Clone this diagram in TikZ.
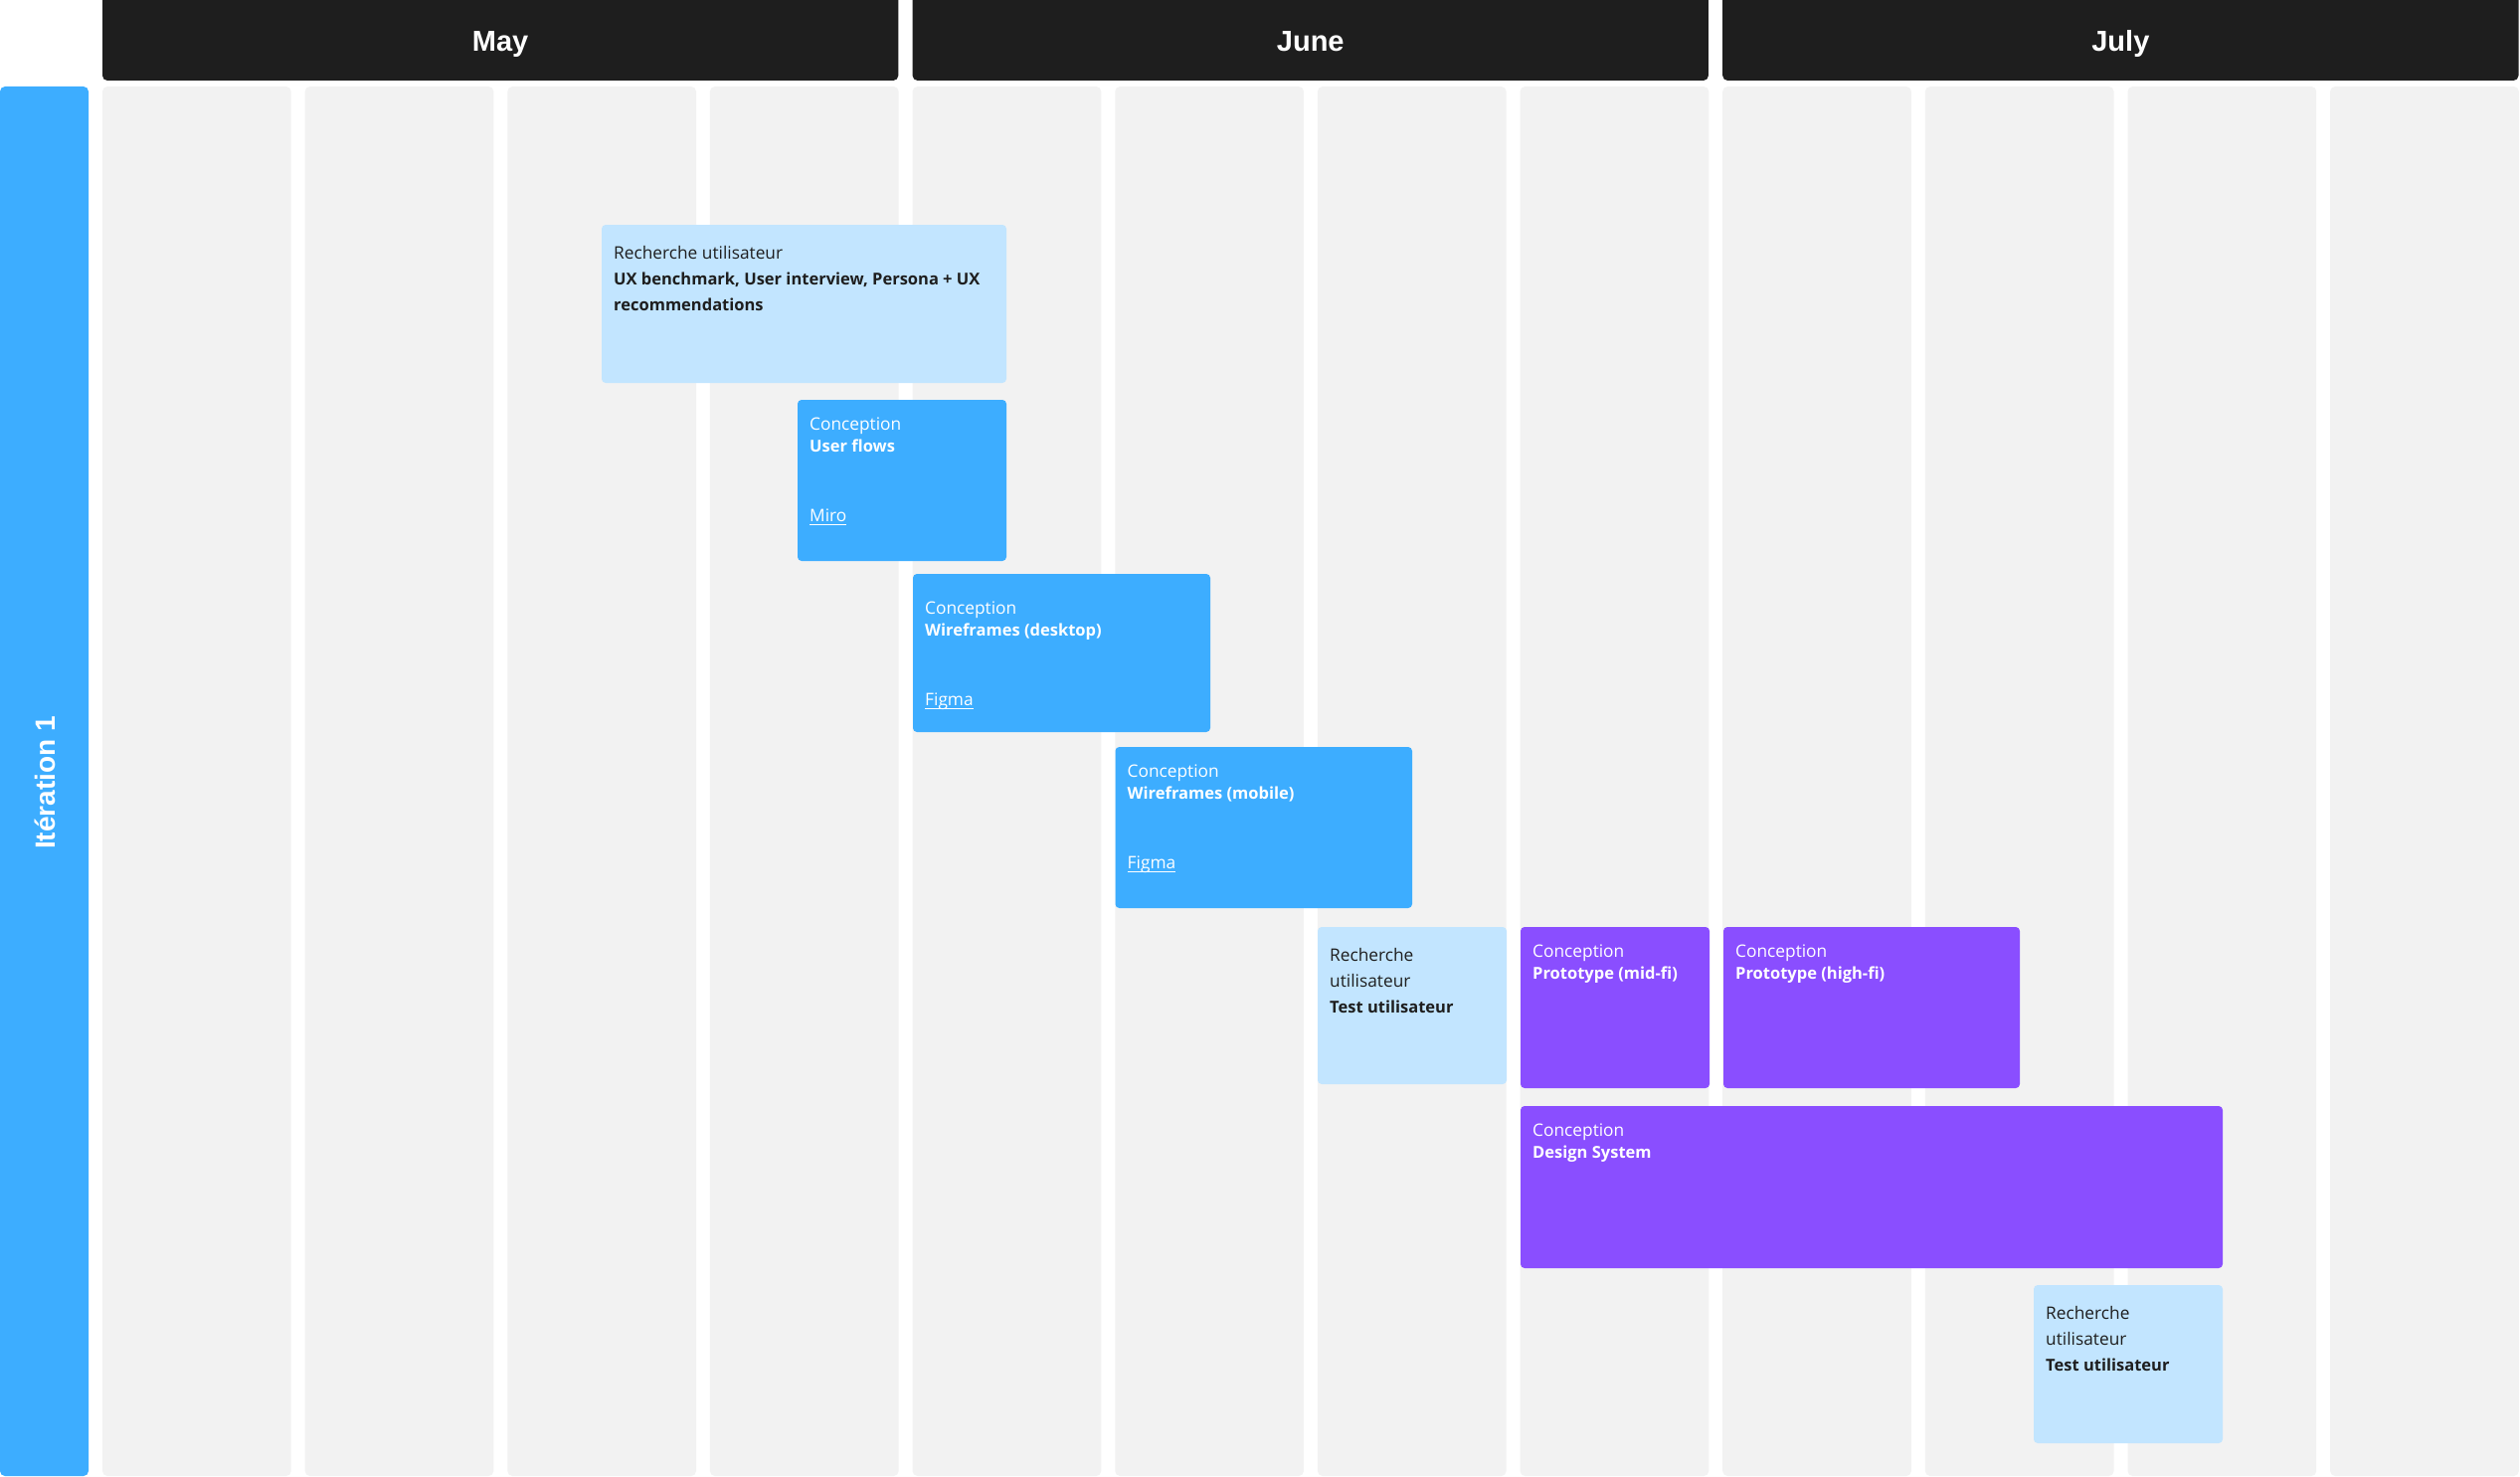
\documentclass[tikz,border=0pt]{standalone}
\usepackage{fontspec}
\setmainfont{Liberation Sans}
\newfontfamily\taskfont{Open Sans}
\definecolor{hdr}{HTML}{1E1E1E}
\definecolor{colbg}{HTML}{F2F2F2}
\definecolor{iterblue}{HTML}{3DADFF}
\definecolor{lightblue}{HTML}{C2E5FF}
\definecolor{taskblue}{HTML}{3DADFF}
\definecolor{taskpurple}{HTML}{8A4EFF}
\definecolor{inktext}{HTML}{1E1E1E}

% box spanning two corners, given as x1,y1,x2,y2 (y grows downward)
\newcommand\boxnode[6]{%
  \node[#2, anchor=north west, minimum width={#5-#3}, minimum height={#6-#4}] (#1) at (#3,#4) {};}
% one text line, baseline #2 below the top of box #1
\newcommand\tline[4]{%
  \node[#3, anchor=base west] at ([xshift=12pt, yshift=-#2pt]#1.north west) {#4};}
% underlined link text
\newcommand\linktext[1]{{\setbox0\hbox{#1}\rlap{\usebox0}\rule[-4pt]{\wd0}{1.4pt}}}

\begin{document}
\begin{tikzpicture}[x=1pt, y=-1pt,
  header/.style={fill=hdr, rounded corners=5pt, inner sep=0pt, outer sep=0pt},
  monthlabel/.style={text=white, font=\fontsize{29}{34}\selectfont\bfseries, inner sep=0pt, anchor=base},
  iterbar/.style={fill=iterblue, rounded corners=5pt, inner sep=0pt, outer sep=0pt},
  lightbox/.style={fill=lightblue, rounded corners=4pt, inner sep=0pt, outer sep=0pt},
  bluebox/.style={fill=taskblue, rounded corners=4pt, inner sep=0pt, outer sep=0pt},
  purplebox/.style={fill=taskpurple, rounded corners=4pt, inner sep=0pt, outer sep=0pt},
  inkreg/.style={text=inktext, font=\taskfont\fontsize{17.3}{20}\selectfont, inner sep=0pt},
  inkbold/.style={text=inktext, font=\taskfont\fontsize{16.5}{20}\selectfont\bfseries, inner sep=0pt},
  whitereg/.style={text=white, font=\taskfont\fontsize{17.3}{20}\selectfont, inner sep=0pt},
  whitebold/.style={text=white, font=\taskfont\fontsize{16.5}{20}\selectfont\bfseries, inner sep=0pt}]

\useasboundingbox (0,0) rectangle (2534,1485);
\fill[white] (0,0) rectangle (2534,1485);

% week columns
\foreach \i in {0,...,11}
  \fill[colbg, rounded corners=5pt] ({103+\i*203.65},87) rectangle ++(189.7,1397);

% month headers
\boxnode{may}{header}{103}{-6}{903.3}{81}
\boxnode{june}{header}{917.6}{-6}{1717.9}{81}
\boxnode{july}{header}{1732.2}{-6}{2532.5}{81}
\node[monthlabel] (maylbl) at (may.center |- 0,52) {May};
\node[monthlabel] (junelbl) at (june.center |- 0,52) {June};
\node[monthlabel] (julylbl) at (july.center |- 0,52) {July};

% iteration bar
\boxnode{iter}{iterbar}{0}{87}{89}{1484}
\node[rotate=90, text=white, font=\fontsize{28}{32}\selectfont\bfseries, inner sep=0pt]
  (iterlbl) at (45,787) {Itération 1};

% tasks
\boxnode{t1}{lightbox}{605}{226}{1012}{385}
\tline{t1}{34}{inkreg}{Recherche utilisateur}
\tline{t1}{60}{inkbold}{UX benchmark, User interview, Persona + UX}
\tline{t1}{86}{inkbold}{recommendations}

\boxnode{t2}{bluebox}{802}{402}{1012}{564}
\tline{t2}{30}{whitereg}{Conception}
\tline{t2}{52}{whitebold}{User flows}
\tline{t2}{122}{whitereg}{\linktext{Miro}}

\boxnode{t3}{bluebox}{918}{577}{1217}{736}
\tline{t3}{40}{whitereg}{Conception}
\tline{t3}{62}{whitebold}{Wireframes (desktop)}
\tline{t3}{132}{whitereg}{\linktext{Figma}}

\boxnode{t4}{bluebox}{1121.5}{751}{1420}{913}
\tline{t4}{30}{whitereg}{Conception}
\tline{t4}{52}{whitebold}{Wireframes (mobile)}
\tline{t4}{122}{whitereg}{\linktext{Figma}}

\boxnode{t5}{lightbox}{1325}{932}{1515}{1090}
\tline{t5}{34}{inkreg}{Recherche}
\tline{t5}{60}{inkreg}{utilisateur}
\tline{t5}{86}{inkbold}{Test utilisateur}

\boxnode{t6}{purplebox}{1529}{932}{1719}{1094}
\tline{t6}{30}{whitereg}{Conception}
\tline{t6}{52}{whitebold}{Prototype (mid-fi)}

\boxnode{t7}{purplebox}{1733}{932}{2031}{1094}
\tline{t7}{30}{whitereg}{Conception}
\tline{t7}{52}{whitebold}{Prototype (high-fi)}

\boxnode{t8}{purplebox}{1529}{1112}{2235}{1275}
\tline{t8}{30}{whitereg}{Conception}
\tline{t8}{52}{whitebold}{Design System}

\boxnode{t9}{lightbox}{2045}{1292}{2235}{1451}
\tline{t9}{34}{inkreg}{Recherche}
\tline{t9}{60}{inkreg}{utilisateur}
\tline{t9}{86}{inkbold}{Test utilisateur}
\end{tikzpicture}
\end{document}
